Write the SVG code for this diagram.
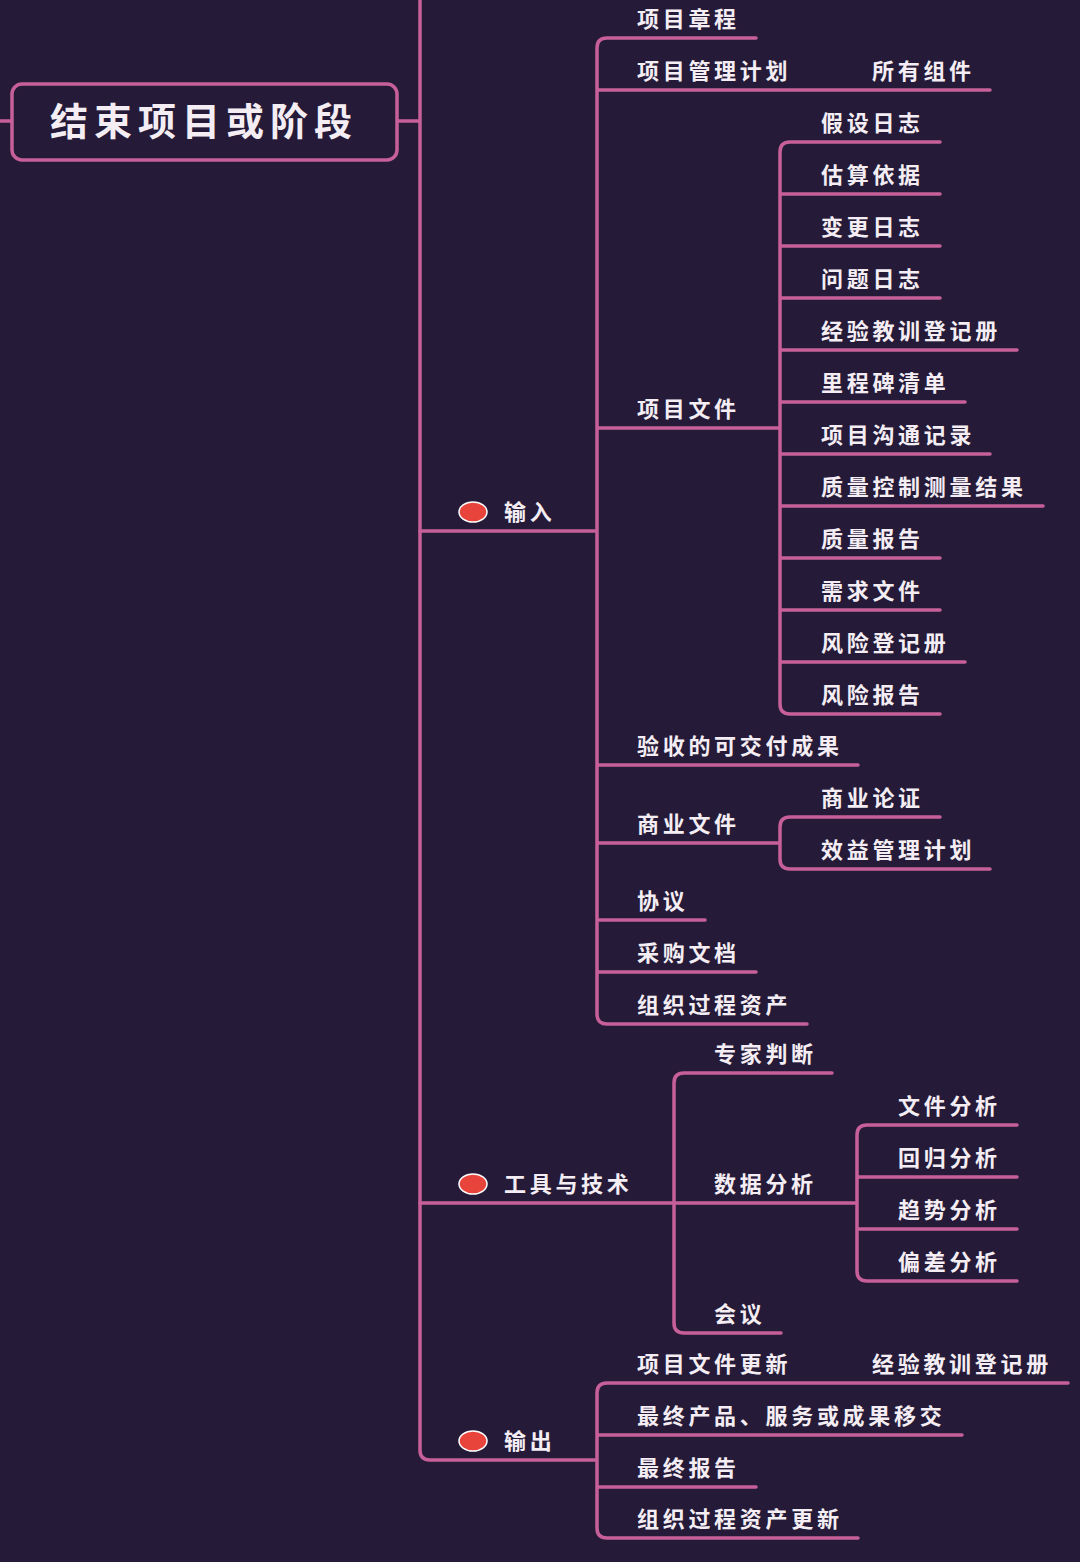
<svg xmlns="http://www.w3.org/2000/svg" width="1080" height="1562" viewBox="0 0 1080 1562">
<style>
.l{fill:none;stroke:#c7609a;stroke-width:3.5;stroke-linecap:round}
.t{font-family:"Noto Sans CJK SC","Liberation Sans",sans-serif;font-weight:bold;font-size:22px;letter-spacing:3.7px;fill:#f4eef4}
.r{font-family:"Noto Sans CJK SC","Liberation Sans",sans-serif;font-weight:bold;font-size:38px;letter-spacing:6px;fill:#f4eef4}
.d{fill:#e8443c;stroke:#ffffff;stroke-width:1.5}
</style>
<rect width="1080" height="1562" fill="#251a38"/>
<g id="connectors">
<path class="l" d="M0,121H12M397,121H420M420,0V1450Q420,1460 430,1460H595"/>
<path class="l" d="M420,531H595M420,1203H672"/>
<path class="l" d="M597,531V48Q597,38 607,38H756M597,90H990M597,428H778M597,765H858M597,843H778M597,920H705M597,972H756M597,531V1014Q597,1024 607,1024H807"/>
<path class="l" d="M780,428V152Q780,142 790,142H940M780,194H940M780,246H940M780,298H940M780,350H1017M780,402H965M780,454H990M780,506H1043M780,558H940M780,610H940M780,662H965M780,428V704Q780,714 790,714H940"/>
<path class="l" d="M780,843V827Q780,817 790,817H940M780,843V859Q780,869 790,869H990"/>
<path class="l" d="M674,1203V1083Q674,1073 684,1073H832M674,1203H855M674,1203V1323Q674,1333 684,1333H781"/>
<path class="l" d="M857,1203V1135Q857,1125 867,1125H1017M857,1177H1017M857,1229H1017M857,1203V1271Q857,1281 867,1281H1017"/>
<path class="l" d="M597,1460V1393Q597,1383 607,1383H1068M597,1435H962M597,1487H756M597,1460V1528Q597,1538 607,1538H858"/>
</g>
<g id="root"><rect x="12" y="84" width="385" height="76" rx="10" fill="#251a38" stroke="#c7609a" stroke-width="3.5"/><text class="r" x="50" y="135">结束项目或阶段</text></g>
<g id="input"><ellipse class="d" cx="473" cy="512" rx="14" ry="10"/><text class="t" x="504" y="520">输入</text></g>
<g id="tools"><ellipse class="d" cx="473" cy="1184" rx="14" ry="10"/><text class="t" x="504" y="1192">工具与技术</text></g>
<g id="output"><ellipse class="d" cx="473" cy="1441" rx="14" ry="10"/><text class="t" x="504" y="1449">输出</text></g>
<g id="in-items">
<text class="t" x="637" y="27">项目章程</text>
<text class="t" x="637" y="79">项目管理计划</text><text class="t" x="872" y="79">所有组件</text>
<text class="t" x="637" y="417">项目文件</text>
<text class="t" x="821" y="131">假设日志</text>
<text class="t" x="821" y="183">估算依据</text>
<text class="t" x="821" y="235">变更日志</text>
<text class="t" x="821" y="287">问题日志</text>
<text class="t" x="821" y="339">经验教训登记册</text>
<text class="t" x="821" y="391">里程碑清单</text>
<text class="t" x="821" y="443">项目沟通记录</text>
<text class="t" x="821" y="495">质量控制测量结果</text>
<text class="t" x="821" y="547">质量报告</text>
<text class="t" x="821" y="599">需求文件</text>
<text class="t" x="821" y="651">风险登记册</text>
<text class="t" x="821" y="703">风险报告</text>
<text class="t" x="637" y="754">验收的可交付成果</text>
<text class="t" x="637" y="832">商业文件</text>
<text class="t" x="821" y="806">商业论证</text>
<text class="t" x="821" y="858">效益管理计划</text>
<text class="t" x="637" y="909">协议</text>
<text class="t" x="637" y="961">采购文档</text>
<text class="t" x="637" y="1013">组织过程资产</text>
</g>
<g id="tool-items">
<text class="t" x="714" y="1062">专家判断</text>
<text class="t" x="714" y="1192">数据分析</text>
<text class="t" x="898" y="1114">文件分析</text>
<text class="t" x="898" y="1166">回归分析</text>
<text class="t" x="898" y="1218">趋势分析</text>
<text class="t" x="898" y="1270">偏差分析</text>
<text class="t" x="714" y="1322">会议</text>
</g>
<g id="out-items">
<text class="t" x="637" y="1372">项目文件更新</text><text class="t" x="872" y="1372">经验教训登记册</text>
<text class="t" x="637" y="1424">最终产品、服务或成果移交</text>
<text class="t" x="637" y="1476">最终报告</text>
<text class="t" x="637" y="1527">组织过程资产更新</text>
</g>
</svg>
